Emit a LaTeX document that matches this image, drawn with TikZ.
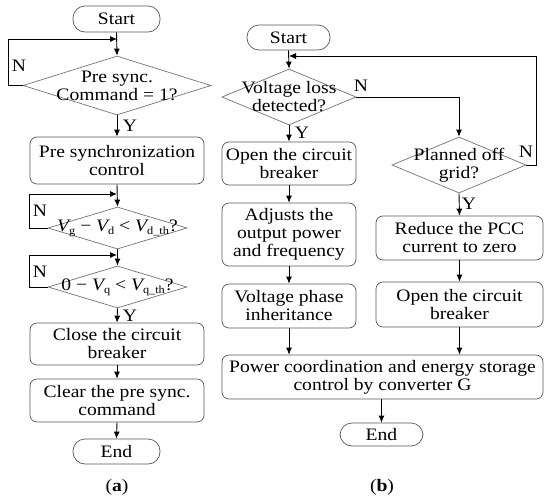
\documentclass[tikz,border=0pt]{standalone}
\usepackage{fontspec}
\setmainfont{Liberation Serif}[FakeStretch=1.12]
\usetikzlibrary{arrows.meta,shapes.geometric}
\newcommand\mysub[1]{\raisebox{-0.4ex}{\fontsize{11}{11}\selectfont #1}}
\begin{document}
\begin{tikzpicture}[x=1pt,y=-1pt,
  every node/.style={font=\fontsize{17.5}{18}\selectfont, align=center},
  box/.style={draw=black!65, line width=0.7pt, rounded corners=7pt, inner sep=0pt},
  term/.style={draw=black!65, line width=0.7pt, rounded corners=12pt, inner sep=0pt},
  dia/.style={draw=black!55, line width=0.7pt, diamond, inner sep=0pt},
  arr/.style={-{Latex[length=7pt,width=6pt]}, line width=0.9pt},
  con/.style={line width=0.9pt},
  lbl/.style={inner sep=0pt}]
\useasboundingbox (0,0) rectangle (550,504);

% ---------- (a) ----------
\node[term, minimum width=87pt, minimum height=26pt] (sa) at (116.5,19) {Start};
\node[dia, minimum width=188pt, minimum height=59pt] (d1) at (117,85.5) {};
\node[lbl] (d1t) at (d1) {Pre sync.\\Command = 1?};
\node[box, minimum width=174pt, minimum height=47pt] (b1) at (117,160.5) {Pre synchronization\\control};
\node[dia, minimum width=139pt, minimum height=42pt] (d2) at (117.5,228) {};
\node[lbl] (d2t) at (d2) {{\itshape V}\mysub{g} − {\itshape V}\mysub{d} < {\itshape V}\mysub{d\_th}?};
\node[dia, minimum width=139pt, minimum height=42pt] (d3) at (117.5,287) {};
\node[lbl] (d3t) at (d3) {0 − {\itshape V}\mysub{q} < {\itshape V}\mysub{q\_th}?};
\node[box, minimum width=174pt, minimum height=42pt] (b2) at (117,344) {Close the circuit\\breaker};
\node[box, minimum width=174pt, minimum height=43pt] (b3) at (117,400.5) {Clear the pre sync.\\command};
\node[term, minimum width=87pt, minimum height=25pt] (ea) at (116.5,451.5) {End};
\node[lbl] (capa) at (117,487) {(\textbf{a})};

\coordinate (j1) at (117,39);
\coordinate (j2) at (117,194);
\coordinate (j3) at (117,255);

\draw[arr] (sa.south) -- (d1.north);
\draw[arr] (d1.west) -- (8,85.5) |- (j1);
\draw[arr] (d1.south) -- (b1.north);
\draw[arr] (b1.south) -- (d2.north);
\draw[arr] (d2.west) -- (29,228) |- (j2);
\draw[arr] (d2.south) -- (d3.north);
\draw[arr] (d3.west) -- (29,287) |- (j3);
\draw[arr] (d3.south) -- (b2.north);
\draw[arr] (b2.south) -- (b3.north);
\draw[arr] (b3.south) -- (ea.north);

\node[lbl] (na1) at (19,66) {N};
\node[lbl] (ya1) at (130,126) {Y};
\node[lbl] (na2) at (40,211) {N};
\node[lbl] (na3) at (40,272) {N};
\node[lbl] (ya3) at (130,316) {Y};

% ---------- (b) ----------
\node[term, minimum width=83pt, minimum height=25pt] (sb) at (288.5,37.5) {Start};
\node[dia, minimum width=134pt, minimum height=56pt] (d4) at (289,97) {};
\node[lbl] (d4t) at (d4) {Voltage loss\\detected?};
\node[box, minimum width=134pt, minimum height=43pt] (b4) at (289,163.5) {Open the circuit\\breaker};
\node[box, minimum width=134pt, minimum height=63pt] (b5) at (289,234.5) {Adjusts the\\output power\\and frequency};
\node[box, minimum width=134pt, minimum height=44pt] (b6) at (289,306) {Voltage phase\\inheritance};
\node[dia, minimum width=134pt, minimum height=56pt] (d5) at (459,165) {};
\node[lbl] (d5t) at (d5) {Planned off\\grid?};
\node[box, minimum width=167pt, minimum height=44pt] (b7) at (459.5,238) {Reduce the PCC\\current to zero};
\node[box, minimum width=167pt, minimum height=45pt] (b8) at (459.5,304.5) {Open the circuit\\breaker};
\node[box, minimum width=321pt, minimum height=44pt] (b9) at (382.5,377) {Power coordination and energy storage\\control by converter G};
\node[term, minimum width=83pt, minimum height=23pt] (eb) at (381.5,434.5) {End};
\node[lbl] (capb) at (382,487) {(\textbf{b})};

\coordinate (j4) at (289,56);
\draw[arr] (sb.south) -- (d4.north);
\draw[arr] (d5.east) -- (536,165) |- (j4);
\draw[arr] (d4.east) -| (d5.north);
\draw[arr] (d4.south) -- (b4.north);
\draw[arr] (b4.south) -- (b5.north);
\draw[arr] (b5.south) -- (b6.north);
\draw[arr] (b6.south) -- (b6.south |- b9.north);
\draw[arr] (d5.south) -- (b7.north);
\draw[arr] (b7.south) -- (b8.north);
\draw[arr] (b8.south) -- (b8.south |- b9.north);
\draw[arr] (b9.south -| eb.north) -- (eb.north);

\node[lbl] (nb1) at (361,86) {N};
\node[lbl] (yb1) at (302,133) {Y};
\node[lbl] (nb2) at (526,152) {N};
\node[lbl] (yb2) at (469,204) {Y};
\end{tikzpicture}
\end{document}
